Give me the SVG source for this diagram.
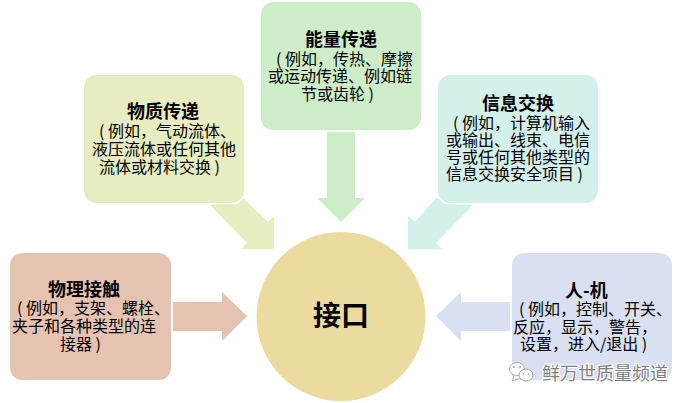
<svg xmlns="http://www.w3.org/2000/svg" width="682" height="403" viewBox="0 0 682 403">
<style>
text{font-family:"Noto Sans CJK SC","Liberation Sans",sans-serif;fill:#000}
.title{font-size:18px;font-weight:700}
.body{font-size:16px}
.box{stroke:#fff;stroke-width:1.500}
.bubble{fill:#fff;stroke:#a8a8a8;stroke-width:1}
.dot{fill:#9a9a9a}
</style>
<rect width="682" height="403" fill="#fff"/>
<!-- flow arrows into the central circle -->
<g id="connectors">
<polygon points="173,302 222,302 222,292 247,316 222,341 222,331 173,331" fill="#e6c3b1"/>
<polygon points="510,302 461,302 461,292 436,316 461,341 461,331 510,331" fill="#d9e0f1"/>
<polygon points="327,132 355,132 355,198 365,198 341,222 317,198 327,198" fill="#cdedc8"/>
<polygon points="210,205 243,198 268,222 274,216 274,249 241,249 247,243" fill="#e7ecc1"/>
<polygon points="473,205 436,198 415,222 408,216 408,249 442,249 436,243" fill="#d4f0ea"/>
</g>
<g id="hub">
<circle cx="341" cy="316.500" r="84.500" fill="#ebdb9e"/>
<text x="313" y="326" style="font-size:28px;font-weight:700">接口</text>
</g>
<g id="physical">
<rect class="box" x="9.250" y="252.250" width="162.500" height="128.500" rx="13" fill="#e6c3b1"/>
<text class="body"><tspan class="title" x="48" y="296">物理接触</tspan><tspan x="17" y="314">( 例如，支架、螺栓、</tspan><tspan x="12" y="332">夹子和各种类型的连</tspan><tspan x="60" y="350">接器 )</tspan></text>
</g>
<g id="material">
<rect class="box" x="83.250" y="74.250" width="161.500" height="129.500" rx="13" fill="#e7ecc1"/>
<text class="body"><tspan class="title" x="127" y="118">物质传递</tspan><tspan x="99" y="137">( 例如，气动流体、</tspan><tspan x="92" y="155">液压流体或任何其他</tspan><tspan x="99" y="173">流体或材料交换 )</tspan></text>
</g>
<g id="energy">
<rect class="box" x="260.250" y="1.250" width="161.500" height="129.500" rx="13" fill="#cdedc8"/>
<text class="body"><tspan class="title" x="305" y="46">能量传递</tspan><tspan x="276" y="65">( 例如，传热、摩擦</tspan><tspan x="268" y="82">或运动传递、例如链</tspan><tspan x="301" y="100">节或齿轮 )</tspan></text>
</g>
<g id="information">
<rect class="box" x="437.250" y="74.250" width="161.500" height="129.500" rx="13" fill="#d4f0ea"/>
<text class="body"><tspan class="title" x="482" y="110">信息交换</tspan><tspan x="453" y="129">( 例如，计算机输入</tspan><tspan x="446" y="146">或输出、线束、电信</tspan><tspan x="446" y="163">号或任何其他类型的</tspan><tspan x="446" y="180">信息交换安全项目 )</tspan></text>
</g>
<g id="human-machine">
<rect class="box" x="511.250" y="252.250" width="161.500" height="128.500" rx="13" fill="#d9e0f1"/>
<text class="body"><tspan class="title" x="565" y="297">人-机</tspan><tspan x="519" y="315">( 例如，控制、开关、</tspan><tspan x="513" y="333">反应，显示，警告，</tspan><tspan x="520" y="350">设置，进入/退出 )</tspan></text>
</g>
<!-- channel badge in the lower right corner -->
<g id="channel-mark">
<path class="bubble" d="M512,381 L514,377 A7,6 0 1 1 518,379 Z"/>
<ellipse class="bubble" cx="517" cy="369" rx="7.500" ry="6.500"/>
<ellipse class="bubble" cx="526" cy="375" rx="7" ry="6"/>
<circle class="dot" cx="514" cy="367" r=".900"/>
<circle class="dot" cx="520" cy="367" r=".900"/>
<circle class="dot" cx="523.500" cy="374" r=".800"/>
<circle class="dot" cx="528.500" cy="374" r=".800"/>
<text x="542" y="380" style="font-size:18px;fill:#808080;stroke:#fff;stroke-width:2;paint-order:stroke">鲜万世质量频道</text>
</g>
</svg>
